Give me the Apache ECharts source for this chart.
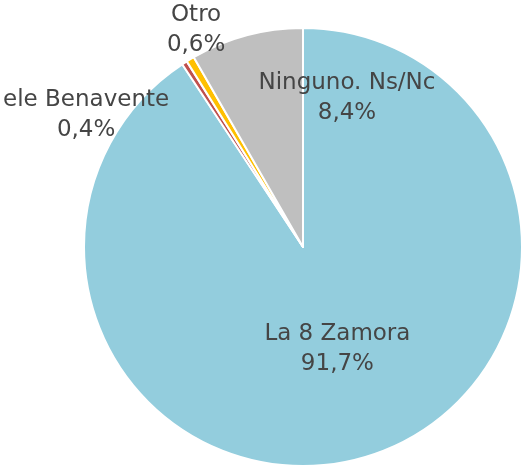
<!DOCTYPE html>
<html>
<head>
<meta charset="utf-8">
<script src="https://cdn.jsdelivr.net/npm/echarts@6/dist/echarts.min.js"></script>
<style>
  html, body { margin: 0; padding: 0; background: #fff; }
  #main { width: 524px; height: 465px; }
</style>
</head>
<body>
<div id="main"></div>
<script>
// datos del gráfico (porcentajes tal como aparecen en las etiquetas)
var categorias = ['La 8 Zamora', 'ele Benavente', 'Otro', 'Ninguno. Ns/Nc'];
var valores = [91.7, 0.4, 0.6, 8.4];
var colores = ['#93CDDD', '#C0504D', '#FFC000', '#BFBFBF'];
// desplazamiento de cada etiqueta respecto a su posición interior
var desplaz = [[2, -6], [-156, -37], [-49, -121], [73, -40]];

var myChart = echarts.init(document.getElementById('main'));

var datos = categorias.map(function (c, i) {
    return {
        name: c,
        value: valores[i],
        itemStyle: { color: colores[i] },
        label: { offset: desplaz[i] }
    };
});

var option = {
    animation: false,
    series: [{
        type: 'pie',
        center: [303, 247],
        radius: 219,
        startAngle: 90,
        clockwise: true,
        itemStyle: { borderColor: '#fff', borderWidth: 2 },
        label: {
            position: 'inside',
            color: '#454545',
            fontFamily: 'DejaVu Sans',
            fontSize: 23,
            lineHeight: 30,
            formatter: function (p) {
                return p.name + '\n' + p.value.toFixed(1).replace('.', ',') + '%';
            }
        },
        labelLine: { show: false },
        emphasis: { disabled: true },
        data: datos
    }]
};
myChart.setOption(option);
</script>
</body>
</html>
